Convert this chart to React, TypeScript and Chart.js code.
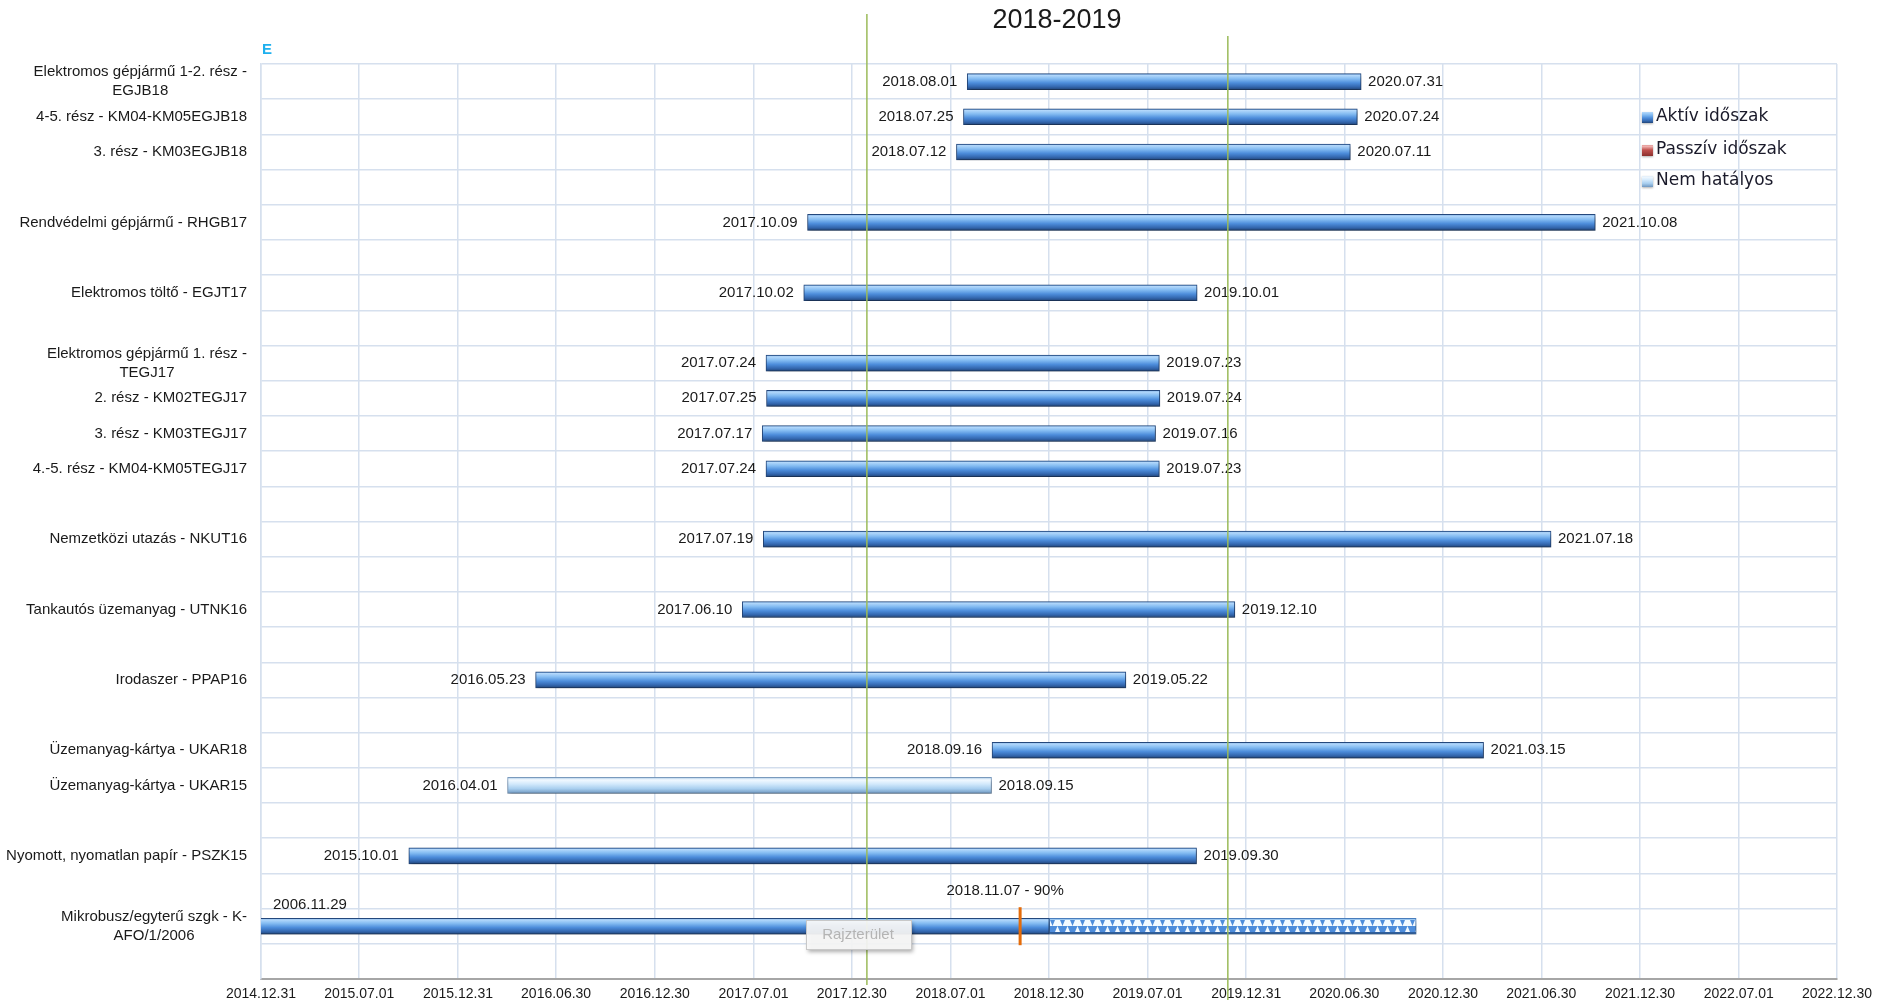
import { useEffect, useRef } from 'react';
import { Chart, registerables } from 'chart.js';

Chart.register(...registerables);

const chartTitle = '2018-2019';

const categories: string[][] = [
  ['Elektromos gépjármű 1-2. rész -', 'EGJB18'],
  ['4-5. rész - KM04-KM05EGJB18'],
  ['3. rész - KM03EGJB18'],
  [''],
  ['Rendvédelmi gépjármű - RHGB17'],
  [''],
  ['Elektromos töltő - EGJT17'],
  [''],
  ['Elektromos gépjármű 1. rész -', 'TEGJ17'],
  ['2. rész - KM02TEGJ17'],
  ['3. rész - KM03TEGJ17'],
  ['4.-5. rész - KM04-KM05TEGJ17'],
  [''],
  ['Nemzetközi utazás - NKUT16'],
  [''],
  ['Tankautós üzemanyag - UTNK16'],
  [''],
  ['Irodaszer - PPAP16'],
  [''],
  ['Üzemanyag-kártya - UKAR18'],
  ['Üzemanyag-kártya - UKAR15'],
  [''],
  ['Nyomott, nyomatlan papír - PSZK15'],
  [''],
  ['Mikrobusz/egyterű szgk - K-', 'AFO/1/2006'],
  [''],
];

const activeStart: (string | null)[] = [
  '2018.08.01', '2018.07.25', '2018.07.12', null, '2017.10.09', null, '2017.10.02', null,
  '2017.07.24', '2017.07.25', '2017.07.17', '2017.07.24', null, '2017.07.19', null, '2017.06.10',
  null, '2016.05.23', null, '2018.09.16', null, null, '2015.10.01', null, '2006.11.29', null,
];
const activeEnd: (string | null)[] = [
  '2020.07.31', '2020.07.24', '2020.07.11', null, '2021.10.08', null, '2019.10.01', null,
  '2019.07.23', '2019.07.24', '2019.07.16', '2019.07.23', null, '2021.07.18', null, '2019.12.10',
  null, '2019.05.22', null, '2021.03.15', null, null, '2019.09.30', null, '2018.12.31', null,
];
const passiveStart: (string | null)[] = new Array(26).fill(null);
const passiveEnd: (string | null)[] = new Array(26).fill(null);
const inactiveStart: (string | null)[] = [
  null, null, null, null, null, null, null, null, null, null, null, null, null, null, null, null,
  null, null, null, null, '2016.04.01', null, null, null, null, null,
];
const inactiveEnd: (string | null)[] = [
  null, null, null, null, null, null, null, null, null, null, null, null, null, null, null, null,
  null, null, null, null, '2018.09.15', null, null, null, null, null,
];
const projectedStart: (string | null)[] = [
  null, null, null, null, null, null, null, null, null, null, null, null, null, null, null, null,
  null, null, null, null, null, null, null, null, '2018.12.31', null,
];
const projectedEnd: (string | null)[] = [
  null, null, null, null, null, null, null, null, null, null, null, null, null, null, null, null,
  null, null, null, null, null, null, null, null, '2020.11.10', null,
];

const milestoneRow = 24;
const milestoneDate = '2018.11.07';
const milestoneLabel = '2018.11.07 - 90%';

const markerDates = ['2018.01.27', '2019.11.27'];

const tickLabels = [
  '2014.12.31', '2015.07.01', '2015.12.31', '2016.06.30', '2016.12.30', '2017.07.01',
  '2017.12.30', '2018.07.01', '2018.12.30', '2019.07.01', '2019.12.31', '2020.06.30',
  '2020.12.30', '2021.06.30', '2021.12.30', '2022.07.01', '2022.12.30',
];

const legendLabels = ['Aktív időszak', 'Passzív időszak', 'Nem hatályos'];

const toDay = (s: string) => {
  const [y, m, d] = s.split('.').map(Number);
  return Date.UTC(y, m - 1, d) / 86400000;
};
const toRanges = (a: (string | null)[], b: (string | null)[]) =>
  a.map((s, i) => (s && b[i] ? [toDay(s), toDay(b[i] as string)] : null));

const FONT = "'Liberation Sans', Arial, sans-serif";
const BAR = 16;
const GRID = '#d6e0ee';

const activeStops: [number, string][] = [
  [0, '#5f97d8'], [0.1, '#b3d8fb'], [0.32, '#84bcf2'], [0.58, '#4d8ddb'], [0.82, '#3468b0'], [1, '#22467a'],
];
const inactiveStops: [number, string][] = [
  [0, '#a9c9e6'], [0.15, '#f2f9ff'], [0.4, '#d4eafc'], [0.7, '#a9cfef'], [1, '#6f97c0'],
];
const passiveStops: [number, string][] = [
  [0, '#d88a88'], [0.2, '#f0b0ae'], [0.5, '#c0504d'], [1, '#8c2f2c'],
];

function gradientFor(stops: [number, string][]) {
  return (c: any) => {
    const chart = c.chart;
    const ys = chart.scales && chart.scales.y;
    if (!chart.chartArea || !ys || c.dataIndex == null) return stops[Math.floor(stops.length / 2)][1];
    const yc = ys.getPixelForValue(c.dataIndex);
    const g = chart.ctx.createLinearGradient(0, yc - BAR / 2, 0, yc + BAR / 2);
    stops.forEach(([o, col]) => g.addColorStop(o, col));
    return g;
  };
}

const patternCache: Record<string, CanvasPattern> = {};
function patternAt(ctx: CanvasRenderingContext2D, top: number): CanvasPattern | string {
  const t = Math.round(top);
  if (patternCache[t]) return patternCache[t];
  const W = 10;
  const pc = document.createElement('canvas');
  pc.width = W;
  pc.height = t + BAR + 2;
  const g = pc.getContext('2d');
  if (!g) return '#5b9be0';
  g.fillStyle = '#ffffff';
  g.fillRect(0, 0, W, pc.height);
  g.translate(0, t);
  g.fillStyle = '#f4faff';
  g.fillRect(0, 0, W, BAR);
  g.fillStyle = '#9cc8f0';
  g.fillRect(0, 0, W, 2);
  g.fillStyle = '#4f8ddb';
  g.beginPath();
  g.moveTo(0, 2); g.lineTo(2.5, 8); g.lineTo(5, 2); g.closePath(); g.fill();
  g.fillRect(0, 8, W, 6);
  g.fillStyle = '#f4faff';
  g.beginPath();
  g.moveTo(5, 14); g.lineTo(7.5, 8); g.lineTo(10, 14); g.closePath(); g.fill();
  g.fillStyle = '#2f5f9e';
  g.fillRect(0, 14, W, 2);
  const p = ctx.createPattern(pc, 'repeat');
  if (!p) return '#5b9be0';
  patternCache[t] = p;
  return p;
}

const overlayPlugin = {
  id: 'ganttOverlay',
  beforeDatasetsDraw(chart: any) {
    const ctx = chart.ctx;
    ctx.save();
    ctx.shadowColor = 'rgba(0,0,0,0.35)';
    ctx.shadowBlur = 4;
    ctx.shadowOffsetX = 1;
    ctx.shadowOffsetY = 3;
  },
  afterDatasetsDraw(chart: any) {
    const ctx = chart.ctx;
    ctx.restore();
    const area = chart.chartArea;
    const xs = chart.scales.x;
    const ys = chart.scales.y;
    ctx.save();
    ctx.font = `15px ${FONT}`;
    ctx.fillStyle = '#1a1a1a';
    ctx.textBaseline = 'middle';
    const labelSets: [number, (string | null)[], (string | null)[]][] = [
      [0, activeStart, activeEnd],
      [2, inactiveStart, inactiveEnd],
    ];
    labelSets.forEach(([di, starts, ends]) => {
      const meta = chart.getDatasetMeta(di);
      meta.data.forEach((el: any, i: number) => {
        if (!starts[i] || !ends[i]) return;
        const p = el.getProps(['x', 'y', 'base'], true);
        const left = Math.min(p.x, p.base);
        const right = Math.max(p.x, p.base);
        if (left < area.left) {
          ctx.textAlign = 'left';
          ctx.fillText(starts[i], area.left + 12, p.y - 21);
        } else {
          ctx.textAlign = 'right';
          ctx.fillText(starts[i], left - 10, p.y);
        }
        if (!projectedStart[i]) {
          ctx.textAlign = 'left';
          ctx.fillText(ends[i], right + 7, p.y);
        }
      });
    });
    // milestone
    const mx = xs.getPixelForValue(toDay(milestoneDate));
    const my = ys.getPixelForValue(milestoneRow);
    ctx.strokeStyle = '#e46c0a';
    ctx.lineWidth = 3;
    ctx.beginPath();
    ctx.moveTo(mx, my - 19);
    ctx.lineTo(mx, my + 19);
    ctx.stroke();
    ctx.textAlign = 'center';
    ctx.fillText(milestoneLabel, mx - 15, my - 35);
    ctx.restore();
  },
  afterDraw(chart: any) {
    const ctx = chart.ctx;
    const area = chart.chartArea;
    const xs = chart.scales.x;
    const ys = chart.scales.y;
    ctx.save();
    // title
    ctx.fillStyle = '#1a1a1a';
    ctx.font = `27px ${FONT}`;
    ctx.textAlign = 'center';
    ctx.textBaseline = 'middle';
    ctx.fillText(chartTitle, (area.left + area.right) / 2 + 8, 21);
    // E
    ctx.fillStyle = '#1fb0ee';
    ctx.font = `bold 15px ${FONT}`;
    ctx.textAlign = 'left';
    ctx.fillText('E', area.left + 1, area.top - 14);
    // y labels
    ctx.fillStyle = '#1a1a1a';
    ctx.font = `15px ${FONT}`;
    categories.forEach((lines, i) => {
      const y = ys.getPixelForValue(i);
      const widths = lines.map((l) => ctx.measureText(l).width);
      const w = Math.max(...widths);
      const right = area.left - 14;
      const lh = 19;
      lines.forEach((l, k) => {
        const ly = y + (k - (lines.length - 1) / 2) * lh;
        ctx.textAlign = 'center';
        ctx.fillText(l, right - w / 2, ly);
      });
    });
    // legend
    const lx = area.right - 195;
    const lys = [area.top + 53, area.top + 86, area.top + 117];
    const swatches = [activeStops, passiveStops, inactiveStops];
    ctx.font = `17px 'DejaVu Sans', ${FONT}`;
    legendLabels.forEach((t, i) => {
      const y = lys[i];
      const g = ctx.createLinearGradient(0, y - 6, 0, y + 6);
      swatches[i].forEach(([o, c]) => g.addColorStop(o, c));
      ctx.save();
      ctx.shadowColor = 'rgba(0,0,0,0.3)';
      ctx.shadowBlur = 2;
      ctx.shadowOffsetY = 1;
      ctx.fillStyle = g;
      ctx.fillRect(lx, y - 5, 11, 11);
      ctx.restore();
      ctx.fillStyle = '#1a1a2a';
      ctx.textAlign = 'left';
      ctx.fillText(t, lx + 14, y);
    });
    // green markers
    const tops = [area.top - 50, area.top - 28];
    const bottoms = [area.bottom + 6, area.bottom + 21];
    ctx.strokeStyle = '#9bbb59';
    ctx.lineWidth = 1.5;
    markerDates.forEach((d, i) => {
      const x = xs.getPixelForValue(toDay(d));
      ctx.beginPath();
      ctx.moveTo(x, tops[i]);
      ctx.lineTo(x, bottoms[i]);
      ctx.stroke();
    });
    // "Rajzterület" hint box
    const bx = area.left + 545;
    const by = area.bottom - 59;
    ctx.save();
    ctx.shadowColor = 'rgba(0,0,0,0.35)';
    ctx.shadowBlur = 4;
    ctx.shadowOffsetX = 2;
    ctx.shadowOffsetY = 3;
    ctx.fillStyle = 'rgba(250,250,250,0.92)';
    ctx.fillRect(bx, by, 105, 29);
    ctx.restore();
    ctx.strokeStyle = '#c8c8c8';
    ctx.lineWidth = 1;
    ctx.strokeRect(bx + 0.5, by + 0.5, 105, 29);
    ctx.fillStyle = '#b4b4b4';
    ctx.font = `15px ${FONT}`;
    ctx.textAlign = 'center';
    ctx.fillText('Rajzterület', bx + 52, by + 15);
    ctx.restore();
  },
};

export default function App() {
  const ref = useRef<HTMLCanvasElement | null>(null);
  useEffect(() => {
    document.body.style.margin = '0';
    const canvas = ref.current;
    if (!canvas) return;
    const patternFill = (c: any) => {
      const chart = c.chart;
      const ys = chart.scales && chart.scales.y;
      if (!chart.chartArea || !ys || c.dataIndex == null) return '#5b9be0';
      const yc = ys.getPixelForValue(c.dataIndex);
      return patternAt(chart.ctx, yc - BAR / 2);
    };
    const common = { grouped: false, barThickness: BAR, borderWidth: 1, borderSkipped: false };
    const chart = new Chart(canvas, {
      type: 'bar',
      data: {
        labels: categories.map((c) => c.join(' ')),
        datasets: [
          {
            label: legendLabels[0],
            data: toRanges(activeStart, activeEnd) as any,
            backgroundColor: gradientFor(activeStops) as any,
            borderColor: '#25497e',
            ...common,
          },
          {
            label: legendLabels[1],
            data: toRanges(passiveStart, passiveEnd) as any,
            backgroundColor: gradientFor(passiveStops) as any,
            borderColor: '#8c2f2c',
            ...common,
          },
          {
            label: legendLabels[2],
            data: toRanges(inactiveStart, inactiveEnd) as any,
            backgroundColor: gradientFor(inactiveStops) as any,
            borderColor: '#7b9cc0',
            ...common,
          },
          {
            label: 'Kifutás',
            data: toRanges(projectedStart, projectedEnd) as any,
            backgroundColor: patternFill as any,
            borderColor: '#4a7fc0',
            ...common,
          },
        ],
      },
      options: {
        indexAxis: 'y',
        animation: false,
        responsive: false,
        maintainAspectRatio: false,
        layout: { padding: { top: 64, right: 41, left: 0, bottom: 0 } },
        plugins: {
          legend: { display: false },
          tooltip: { enabled: false },
          title: { display: false },
        },
        scales: {
          x: {
            type: 'linear',
            position: 'bottom',
            min: toDay(tickLabels[0]),
            max: toDay(tickLabels[tickLabels.length - 1]),
            afterBuildTicks: (scale: any) => {
              scale.ticks = tickLabels.map((t) => ({ value: toDay(t) }));
            },
            afterFit: (scale: any) => {
              scale.height = 28;
            },
            grid: { color: GRID, lineWidth: 1.5, drawTicks: false },
            border: { color: '#a6a6a6', width: 2 },
            ticks: {
              autoSkip: false,
              maxRotation: 0,
              minRotation: 0,
              padding: 7,
              color: '#1a1a1a',
              font: { family: FONT, size: 14 },
              callback: (_v: any, i: number) => tickLabels[i],
            },
          },
          y: {
            type: 'category',
            afterFit: (scale: any) => {
              scale.width = 261;
            },
            ticks: { display: false },
            grid: { color: GRID, lineWidth: 1.5, drawTicks: false },
            border: { color: GRID, width: 1.5 },
          },
        },
      } as any,
      plugins: [overlayPlugin],
    });
    return () => chart.destroy();
  }, []);
  return (
    <div style={{ width: 1879, height: 1007, background: '#ffffff' }}>
      <canvas ref={ref} width={1879} height={1007} style={{ display: 'block' }} />
    </div>
  );
}
